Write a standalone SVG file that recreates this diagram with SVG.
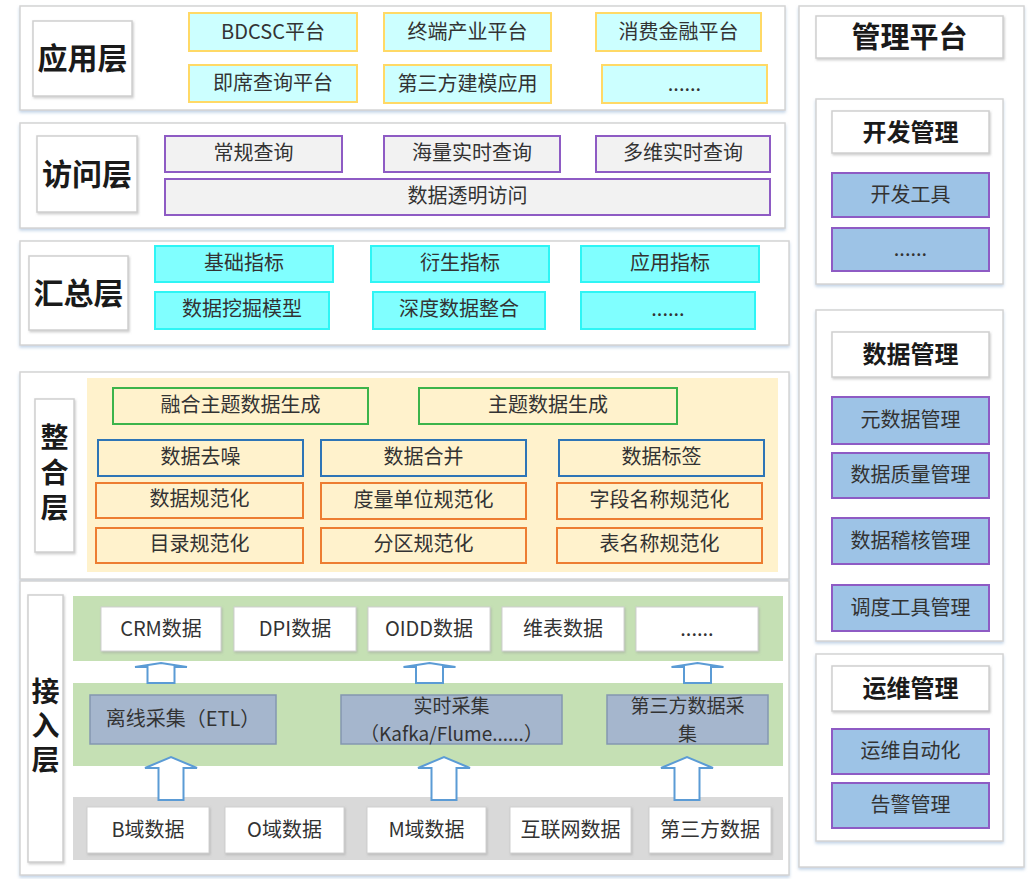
<svg xmlns="http://www.w3.org/2000/svg" width="1033" height="879" viewBox="0 0 1033 879">
<defs>
<filter id="sh" x="-5%" y="-5%" width="110%" height="115%">
<feDropShadow dx="0" dy="2" stdDeviation="1.5" flood-color="#9db9d8" flood-opacity="0.6"/>
</filter>
<filter id="sh2" x="-10%" y="-10%" width="120%" height="125%">
<feDropShadow dx="1" dy="1.5" stdDeviation="1" flood-color="#999999" flood-opacity="0.5"/>
</filter>
<style>
text{font-family:"Noto Sans CJK SC","Liberation Sans",sans-serif;fill:#333;text-anchor:middle;dominant-baseline:central}
.panel{fill:#fff;stroke:#d4d4d4;stroke-width:1.5;filter:url(#sh)}
.lbl{fill:#fff;stroke:#cfcfcf;stroke-width:1.5;filter:url(#sh2)}
.lt{font-size:30px;font-weight:bold;fill:#1a1a1a}
.vt{font-size:28px;font-weight:bold;fill:#1a1a1a;writing-mode:vertical-rl}
.t{font-size:20px}
.t2{font-size:19px}
.h{font-size:24px;font-weight:bold;fill:#1a1a1a}
.app{fill:#ccffff;stroke:#ffd966;stroke-width:2}
.acc{fill:#f2f2f2;stroke:#8e5bc4;stroke-width:2}
.sum{fill:#80ffff;stroke:#2ef5f5;stroke-width:2}
.beige{fill:#fff2cc}
.gr{fill:none;stroke:#3cb44b;stroke-width:2}
.bl{fill:none;stroke:#2e75b6;stroke-width:2}
.or{fill:none;stroke:#ed7d31;stroke-width:2}
.band{fill:#c5e0b4}
.gband{fill:#d9d9d9}
.col{fill:#a5b6cd;stroke:#8497b0;stroke-width:1.5}
.wb{fill:#fff;stroke:#d0d0d0;stroke-width:1;filter:url(#sh2)}
.mg{fill:#9dc3e6;stroke:#8e5bc4;stroke-width:2}
.arr{fill:#fff;stroke:#5b9bd5;stroke-width:2}
</style>
</defs>
<rect width="1033" height="879" fill="#fff"/>

<!-- 应用层 -->
<g id="layer-app">
<rect class="panel" x="20" y="6" width="765" height="104"/>
<rect class="lbl" x="33" y="21" width="99" height="75"/>
<text class="lt" x="82.5" y="56">应用层</text>
<g id="app-bdcsc"><rect class="app" x="189" y="13" width="168" height="38"/><text class="t" x="273" y="30">BDCSC平台</text></g>
<g id="app-zd"><rect class="app" x="384" y="13" width="167" height="38"/><text class="t" x="467.5" y="30">终端产业平台</text></g>
<g id="app-xf"><rect class="app" x="596" y="13" width="165" height="38"/><text class="t" x="678.5" y="30">消费金融平台</text></g>
<g id="app-jx"><rect class="app" x="189" y="65" width="168" height="37"/><text class="t" x="273" y="81">即席查询平台</text></g>
<g id="app-dsf"><rect class="app" x="384" y="65" width="167" height="38"/><text class="t" x="467.5" y="82">第三方建模应用</text></g>
<g id="app-more"><rect class="app" x="602" y="65" width="165" height="38"/><text class="t" x="684.5" y="82">......</text></g>
</g>

<!-- 访问层 -->
<g id="layer-access">
<rect class="panel" x="20" y="123" width="765" height="105"/>
<rect class="lbl" x="37" y="136" width="100" height="76"/>
<text class="lt" x="87" y="172">访问层</text>
<g id="acc-cg"><rect class="acc" x="165" y="136" width="177" height="36"/><text class="t" x="253.5" y="151">常规查询</text></g>
<g id="acc-hl"><rect class="acc" x="384" y="136" width="176" height="36"/><text class="t" x="472" y="151">海量实时查询</text></g>
<g id="acc-dw"><rect class="acc" x="596" y="136" width="174" height="36"/><text class="t" x="683" y="151">多维实时查询</text></g>
<g id="acc-tm"><rect class="acc" x="165" y="179" width="605" height="36"/><text class="t" x="467.5" y="194">数据透明访问</text></g>
</g>

<!-- 汇总层 -->
<g id="layer-summary">
<rect class="panel" x="20" y="241" width="769" height="104"/>
<rect class="lbl" x="29" y="256" width="99" height="74"/>
<text class="lt" x="78.5" y="291">汇总层</text>
<g id="sum-jc"><rect class="sum" x="155" y="246" width="178" height="36"/><text class="t" x="244" y="261">基础指标</text></g>
<g id="sum-ys"><rect class="sum" x="371" y="246" width="178" height="36"/><text class="t" x="460" y="261">衍生指标</text></g>
<g id="sum-yy"><rect class="sum" x="581" y="246" width="178" height="36"/><text class="t" x="670" y="261">应用指标</text></g>
<g id="sum-wj"><rect class="sum" x="155" y="292" width="174" height="37"/><text class="t" x="242" y="307.5">数据挖掘模型</text></g>
<g id="sum-sd"><rect class="sum" x="373" y="292" width="172" height="37"/><text class="t" x="459" y="307.5">深度数据整合</text></g>
<g id="sum-more"><rect class="sum" x="581" y="292" width="174" height="37"/><text class="t" x="668" y="307.5">......</text></g>
</g>

<!-- 整合层 -->
<g id="layer-integration">
<rect class="panel" x="20" y="372" width="769" height="207"/>
<rect class="beige" x="87" y="378" width="691" height="194"/>
<rect class="lbl" x="35" y="399" width="39" height="153"/>
<text class="vt" x="54.5" y="476" style="letter-spacing:7px">整合层</text>
<g id="int-rh"><rect class="gr" x="113" y="388" width="255" height="36"/><text class="t" x="240.5" y="403">融合主题数据生成</text></g>
<g id="int-zt"><rect class="gr" x="419" y="388" width="258" height="36"/><text class="t" x="548" y="403">主题数据生成</text></g>
<g id="int-qz"><rect class="bl" x="98" y="440" width="205" height="36"/><text class="t" x="200.5" y="455">数据去噪</text></g>
<g id="int-hb"><rect class="bl" x="321" y="440" width="205" height="36"/><text class="t" x="423.5" y="455">数据合并</text></g>
<g id="int-bq"><rect class="bl" x="559" y="440" width="205" height="36"/><text class="t" x="661.5" y="455">数据标签</text></g>
<g id="int-gf"><rect class="or" x="96" y="483" width="207" height="35"/><text class="t" x="199.5" y="497.5">数据规范化</text></g>
<g id="int-dl"><rect class="or" x="321" y="483" width="205" height="36"/><text class="t" x="423.5" y="498">度量单位规范化</text></g>
<g id="int-zd"><rect class="or" x="557" y="483" width="205" height="36"/><text class="t" x="659.5" y="498">字段名称规范化</text></g>
<g id="int-ml"><rect class="or" x="96" y="528" width="207" height="35"/><text class="t" x="199.5" y="542.5">目录规范化</text></g>
<g id="int-fq"><rect class="or" x="321" y="528" width="205" height="35"/><text class="t" x="423.5" y="542.5">分区规范化</text></g>
<g id="int-bm"><rect class="or" x="557" y="528" width="205" height="35"/><text class="t" x="659.5" y="542.5">表名称规范化</text></g>
</g>

<!-- 接入层 -->
<g id="layer-ingest">
<rect class="panel" x="20" y="581" width="769" height="294"/>
<rect class="lbl" x="28" y="595" width="35" height="267"/>
<text class="vt" x="45.5" y="728" style="letter-spacing:6px">接入层</text>
<rect class="band" x="73" y="596" width="710" height="65"/>
<rect class="band" x="73" y="683" width="710" height="83"/>
<rect class="gband" x="73" y="797" width="710" height="63"/>
<g id="src-crm"><rect class="wb" x="101" y="607" width="120" height="44"/><text class="t" x="161" y="627">CRM数据</text></g>
<g id="src-dpi"><rect class="wb" x="234" y="607" width="122" height="44"/><text class="t" x="295" y="627">DPI数据</text></g>
<g id="src-oidd"><rect class="wb" x="368" y="607" width="122" height="44"/><text class="t" x="429" y="627">OIDD数据</text></g>
<g id="src-wb"><rect class="wb" x="502" y="607" width="122" height="44"/><text class="t" x="563" y="627">维表数据</text></g>
<g id="src-more"><rect class="wb" x="636" y="607" width="122" height="44"/><text class="t" x="697" y="627">......</text></g>
<g id="col-etl"><rect class="col" x="90" y="695" width="186" height="49"/><text class="t" x="183" y="717.5">离线采集（ETL）</text></g>
<g id="col-rt"><rect class="col" x="341" y="695" width="221" height="49"/><text class="t2" x="451.5" y="704">实时采集</text><text class="t2" x="451.5" y="732">（Kafka/Flume......）</text></g>
<g id="col-3p"><rect class="col" x="607" y="695" width="161" height="49"/><text class="t2" x="687.5" y="704">第三方数据采</text><text class="t2" x="687.5" y="732">集</text></g>
<g id="d-b"><rect class="wb" x="87" y="807" width="122" height="46"/><text class="t" x="148" y="828">B域数据</text></g>
<g id="d-o"><rect class="wb" x="225" y="807" width="119" height="46"/><text class="t" x="284.5" y="828">O域数据</text></g>
<g id="d-m"><rect class="wb" x="367" y="807" width="119" height="46"/><text class="t" x="426.5" y="828">M域数据</text></g>
<g id="d-net"><rect class="wb" x="510" y="807" width="121" height="46"/><text class="t" x="570.5" y="828">互联网数据</text></g>
<g id="d-3p"><rect class="wb" x="649" y="807" width="122" height="46"/><text class="t" x="710" y="828">第三方数据</text></g>
</g>

<!-- connectors -->
<g id="connectors">
<path class="arr" d="M147.5,683 V667 H135 L161,663 L187,667 H174.5 V683 Z"/>
<path class="arr" d="M416,683 V667 H403.5 L429.5,663 L455.5,667 H443 V683 Z"/>
<path class="arr" d="M684,683 V667 H671.5 L697.5,663 L723.5,667 H711 V683 Z"/>
<path class="arr" d="M158.5,800 V768 H145 L171,757 L197,768 H183.5 V800 Z"/>
<path class="arr" d="M431.5,800 V768 H418 L444,757 L470,768 H456.5 V800 Z"/>
<path class="arr" d="M674.5,800 V768 H661 L687,757 L713,768 H699.5 V800 Z"/>
</g>

<!-- 管理平台 -->
<g id="mgmt">
<rect class="panel" x="799" y="6" width="225" height="861"/>
<g id="mgmt-title"><rect class="lbl" x="816" y="16" width="187" height="42"/><text class="lt" x="909.5" y="35" style="font-size:29px">管理平台</text></g>
<g id="mgmt-dev">
<rect class="panel" x="816" y="99" width="187" height="185"/>
<rect class="lbl" x="832" y="111" width="157" height="42"/><text class="h" x="910.5" y="130">开发管理</text>
<rect class="mg" x="832" y="173" width="157" height="44"/><text class="t" x="910.5" y="193">开发工具</text>
<rect class="mg" x="832" y="228" width="157" height="43"/><text class="t" x="910.5" y="247.5">......</text>
</g>
<g id="mgmt-data">
<rect class="panel" x="816" y="310" width="187" height="331"/>
<rect class="lbl" x="832" y="332" width="157" height="45"/><text class="h" x="910.5" y="352.5">数据管理</text>
<rect class="mg" x="832" y="397" width="157" height="47"/><text class="t" x="910.5" y="418.5">元数据管理</text>
<rect class="mg" x="832" y="453" width="157" height="45"/><text class="t" x="910.5" y="473.5">数据质量管理</text>
<rect class="mg" x="832" y="518" width="157" height="46"/><text class="t" x="910.5" y="539">数据稽核管理</text>
<rect class="mg" x="832" y="585" width="157" height="46"/><text class="t" x="910.5" y="606">调度工具管理</text>
</g>
<g id="mgmt-ops">
<rect class="panel" x="816" y="654" width="187" height="187"/>
<rect class="lbl" x="832" y="666" width="157" height="45"/><text class="h" x="910.5" y="686.5">运维管理</text>
<rect class="mg" x="832" y="729" width="157" height="45"/><text class="t" x="910.5" y="749.5">运维自动化</text>
<rect class="mg" x="832" y="783" width="157" height="45"/><text class="t" x="910.5" y="803.5">告警管理</text>
</g>
</g>
</svg>
